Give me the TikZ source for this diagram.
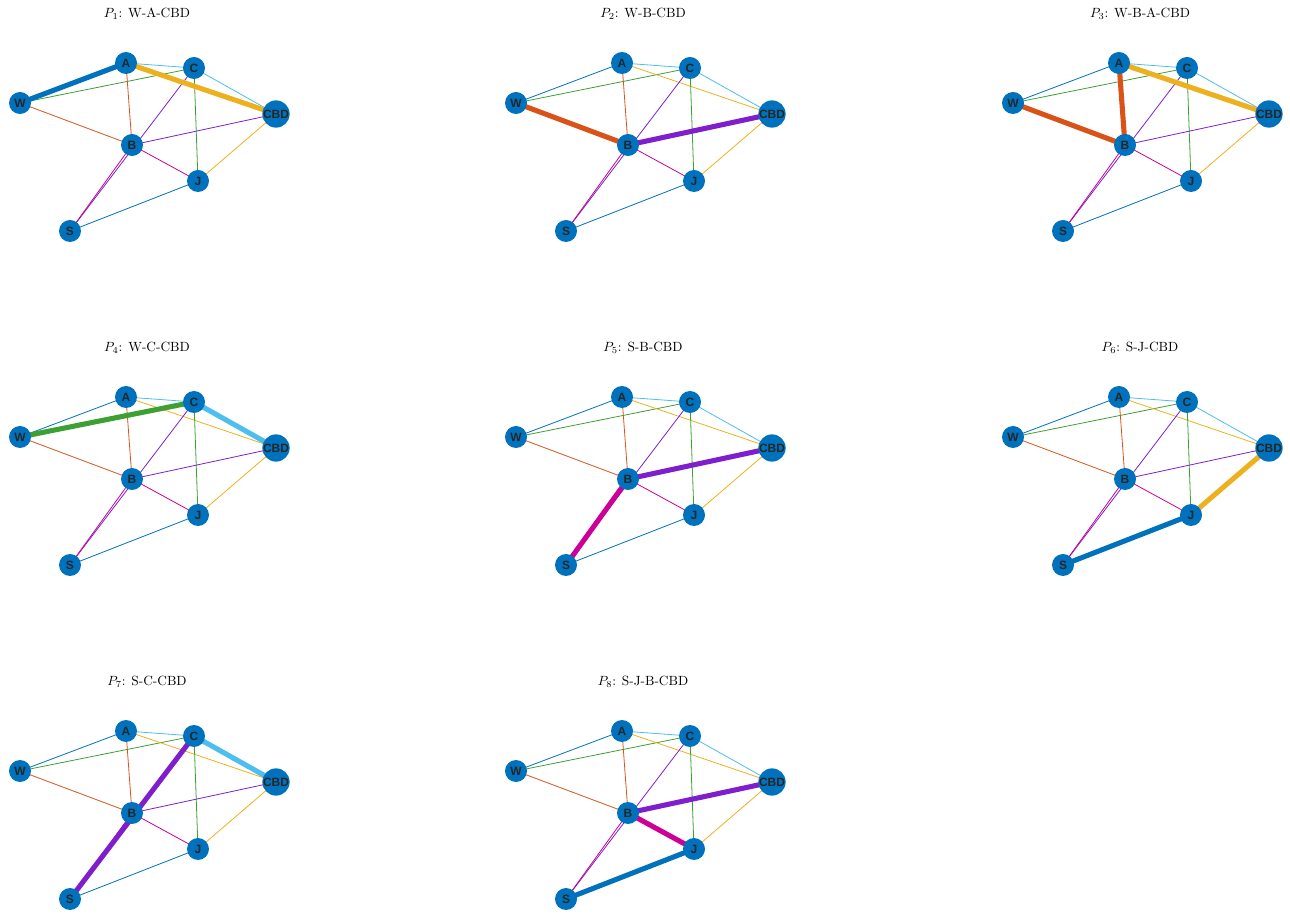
\documentclass[tikz,border=0pt]{standalone}
\usepackage{fontspec}
\newfontfamily\lsans{Liberation Sans}
\definecolor{mblue}{RGB}{0,114,189}
\definecolor{morange}{RGB}{217,83,25}
\definecolor{myellow}{RGB}{237,177,32}
\definecolor{mpurple}{RGB}{126,30,205}
\definecolor{mgreen}{RGB}{60,160,50}
\definecolor{mcyan}{RGB}{77,190,238}
\definecolor{mmag}{RGB}{204,0,150}
\pgfdeclarelayer{bg}\pgfsetlayers{bg,main}
\tikzset{
  gnode/.style={circle,fill=mblue,minimum size=16.5pt,inner sep=0pt,font=\lsans\bfseries\fontsize{9}{9}\selectfont,text=black!85},
  thin edge/.style={line width=0.6pt},
  thick edge/.style={line width=3.8pt},
  ttl/.style={font=\fontsize{10}{12}\selectfont}
}
\newcommand{\graphpanel}[4]{% dx dy title prefix
  \begin{scope}[shift={(#1,#2)}]
  \node[ttl] (#4t) at (147,14) {#3};
  \node[gnode] (#4W) at (20,103) {W};
  \node[gnode] (#4A) at (126,63) {A};
  \node[gnode] (#4C) at (194,68) {C};
  \node[gnode] (#4D) at (276,114) {CBD};
  \node[gnode] (#4B) at (132,145) {B};
  \node[gnode] (#4J) at (198,181) {J};
  \node[gnode] (#4S) at (70,231) {S};
  \end{scope}
  \begin{pgfonlayer}{bg}
  \foreach \u/\v/\c in {W/A/mblue,W/C/mgreen,W/B/morange,A/C/mcyan,A/D/myellow,A/B/morange,
     C/D/mcyan,C/S/mpurple,C/J/mgreen,B/D/mpurple,B/J/mmag,S/B/mmag,J/D/myellow,S/J/mblue}
    \draw[thin edge,\c] (#4\u.center) -- (#4\v.center);
  \end{pgfonlayer}
}
\newcommand{\hl}[3]{\begin{pgfonlayer}{bg}\draw[thick edge,#3] (#1.center) -- (#2.center);\end{pgfonlayer}}
\begin{document}
\begin{tikzpicture}[x=0.75pt,y=-0.75pt]
\useasboundingbox (0,0) rectangle (1290,919);
\graphpanel{0}{0}{$P_1$: W-A-CBD}{a}
\hl{aW}{aA}{mblue}\hl{aA}{aD}{myellow}
\graphpanel{496}{0}{$P_2$: W-B-CBD}{b}
\hl{bW}{bB}{morange}\hl{bB}{bD}{mpurple}
\graphpanel{993}{0}{$P_3$: W-B-A-CBD}{c}
\hl{cW}{cB}{morange}\hl{cB}{cA}{morange}\hl{cA}{cD}{myellow}
\graphpanel{0}{334}{$P_4$: W-C-CBD}{d}
\hl{dW}{dC}{mgreen}\hl{dC}{dD}{mcyan}
\graphpanel{496}{334}{$P_5$: S-B-CBD}{e}
\hl{eS}{eB}{mmag}\hl{eB}{eD}{mpurple}
\graphpanel{993}{334}{$P_6$: S-J-CBD}{f}
\hl{fS}{fJ}{mblue}\hl{fJ}{fD}{myellow}
\graphpanel{0}{668}{$P_7$: S-C-CBD}{g}
\hl{gS}{gC}{mpurple}\hl{gC}{gD}{mcyan}
\graphpanel{496}{668}{$P_8$: S-J-B-CBD}{h}
\hl{hS}{hJ}{mblue}\hl{hJ}{hB}{mmag}\hl{hB}{hD}{mpurple}
\end{tikzpicture}
\end{document}
